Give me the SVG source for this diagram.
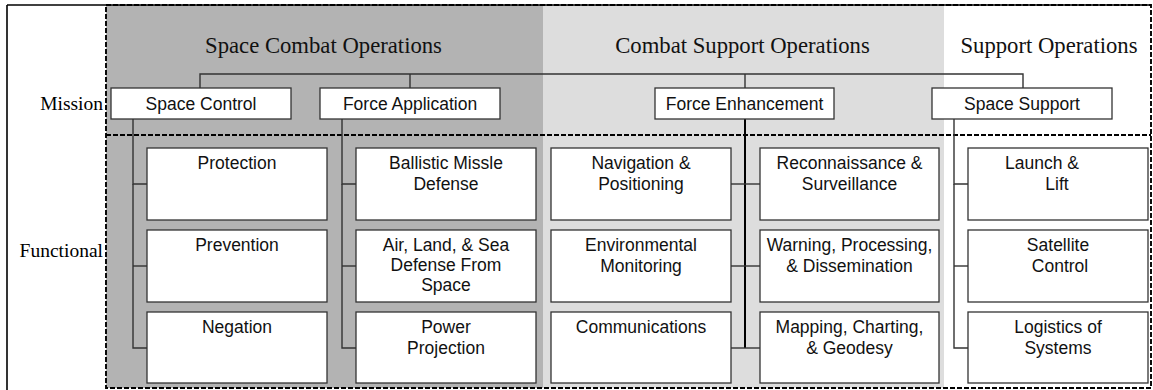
<svg xmlns="http://www.w3.org/2000/svg" width="1153" height="390" viewBox="0 0 1153 390">
<style>
.hd{font-family:"Liberation Serif","Times New Roman",serif;font-size:22.7px;fill:#111;text-anchor:middle}
.lb{font-family:"Liberation Serif","Times New Roman",serif;font-size:19.5px;fill:#000;text-anchor:end}
.bx{fill:#fff;stroke:#333;stroke-width:1.3}
.tx{font-family:"Liberation Sans",Arial,sans-serif;font-size:17.5px;fill:#111;text-anchor:middle}
.cn{fill:none;stroke:#333;stroke-width:1.4}
.dash{fill:none;stroke:#000;stroke-width:1.9;stroke-dasharray:5 2}
</style>
<g id="background">
<rect x="0" y="0" width="1153" height="390" fill="#fff"/>
<rect x="106" y="5" width="437" height="383" fill="#b3b3b3"/>
<rect x="543" y="5" width="401" height="383" fill="#dddddd"/>
<line x1="7" y1="5" x2="1151" y2="5" stroke="#000" stroke-width="1.6"/>
<line x1="7" y1="5" x2="7" y2="390" stroke="#000" stroke-width="1.6"/>
<rect class="dash" x="106" y="5" width="1045" height="383"/>
<line class="dash" x1="106" y1="135" x2="1151" y2="135"/>
</g>
<g id="headings">
<text class="hd" x="323.5" y="53">Space Combat Operations</text>
<text class="hd" x="742.5" y="53">Combat Support Operations</text>
<text class="hd" x="1049" y="53">Support Operations</text>
<text class="lb" x="103" y="110">Mission</text>
<text class="lb" x="103" y="257">Functional</text>
</g>
<g id="connectors">
<polyline class="cn" points="200,88 200,74 1023,74 1023,88"/>
<line class="cn" x1="410" y1="74" x2="410" y2="88"/>
<line class="cn" x1="745" y1="74" x2="745" y2="88"/>
<polyline class="cn" points="147,184 133,184 133,119"/>
<line class="cn" x1="133" y1="266" x2="147" y2="266"/>
<polyline class="cn" points="133,184 133,348 147,348"/>
<polyline class="cn" points="356,184 342,184 342,119"/>
<line class="cn" x1="342" y1="266" x2="356" y2="266"/>
<polyline class="cn" points="342,184 342,348 356,348"/>
<line x1="745" y1="119" x2="745" y2="348" stroke="#000" stroke-width="2"/>
<line class="cn" x1="731" y1="184" x2="760" y2="184"/>
<line class="cn" x1="731" y1="266" x2="760" y2="266"/>
<line class="cn" x1="731" y1="348" x2="760" y2="348"/>
<polyline class="cn" points="968,184 954,184 954,119"/>
<line class="cn" x1="954" y1="266" x2="968" y2="266"/>
<polyline class="cn" points="954,184 954,348 968,348"/>
</g>
<g id="space-control"><rect class="bx" x="111" y="88" width="180" height="31"/><text class="tx" x="201" y="110">Space Control</text></g>
<g id="force-application"><rect class="bx" x="320" y="88" width="180" height="31"/><text class="tx" x="410" y="110">Force Application</text></g>
<g id="force-enhancement"><rect class="bx" x="655" y="88" width="179" height="31"/><text class="tx" x="744.5" y="110">Force Enhancement</text></g>
<g id="space-support"><rect class="bx" x="932" y="88" width="180" height="31"/><text class="tx" x="1022" y="110">Space Support</text></g>

<g id="protection"><rect class="bx" x="147" y="148" width="180" height="72"/><text class="tx" x="237" y="169">Protection</text></g>
<g id="prevention"><rect class="bx" x="147" y="230" width="180" height="72"/><text class="tx" x="237" y="251">Prevention</text></g>
<g id="negation"><rect class="bx" x="147" y="312" width="180" height="71"/><text class="tx" x="237" y="333">Negation</text></g>

<g id="ballistic"><rect class="bx" x="356" y="148" width="180" height="72"/><text class="tx" x="446" y="169">Ballistic Missle</text><text class="tx" x="446" y="189.5">Defense</text></g>
<g id="air-land-sea"><rect class="bx" x="356" y="230" width="180" height="72"/><text class="tx" x="446" y="251">Air, Land, &amp; Sea</text><text class="tx" x="446" y="271">Defense From</text><text class="tx" x="446" y="291">Space</text></g>
<g id="power-projection"><rect class="bx" x="356" y="312" width="180" height="71"/><text class="tx" x="446" y="333">Power</text><text class="tx" x="446" y="353.5">Projection</text></g>

<g id="navigation"><rect class="bx" x="551" y="148" width="180" height="72"/><text class="tx" x="641" y="169">Navigation &amp;</text><text class="tx" x="641" y="189.5">Positioning</text></g>
<g id="environmental"><rect class="bx" x="551" y="230" width="180" height="72"/><text class="tx" x="641" y="251">Environmental</text><text class="tx" x="641" y="271.5">Monitoring</text></g>
<g id="communications"><rect class="bx" x="551" y="312" width="180" height="71"/><text class="tx" x="641" y="333">Communications</text></g>

<g id="reconnaissance"><rect class="bx" x="760" y="148" width="179" height="72"/><text class="tx" x="849.5" y="169">Reconnaissance &amp;</text><text class="tx" x="849.5" y="189.5">Surveillance</text></g>
<g id="warning"><rect class="bx" x="760" y="230" width="179" height="72"/><text class="tx" x="849.5" y="251">Warning, Processing,</text><text class="tx" x="849.5" y="271.5">&amp; Dissemination</text></g>
<g id="mapping"><rect class="bx" x="760" y="312" width="179" height="71"/><text class="tx" x="849.5" y="333">Mapping, Charting,</text><text class="tx" x="849.5" y="353.5">&amp; Geodesy</text></g>

<g id="launch"><rect class="bx" x="968" y="148" width="180" height="72"/><text class="tx" x="1042" y="169">Launch &amp;</text><text class="tx" x="1057" y="189.5">Lift</text></g>
<g id="satellite"><rect class="bx" x="968" y="230" width="180" height="72"/><text class="tx" x="1058" y="251">Satellite</text><text class="tx" x="1060" y="271.5">Control</text></g>
<g id="logistics"><rect class="bx" x="968" y="312" width="180" height="71"/><text class="tx" x="1058" y="333">Logistics of</text><text class="tx" x="1058" y="353.5">Systems</text></g>
</svg>
